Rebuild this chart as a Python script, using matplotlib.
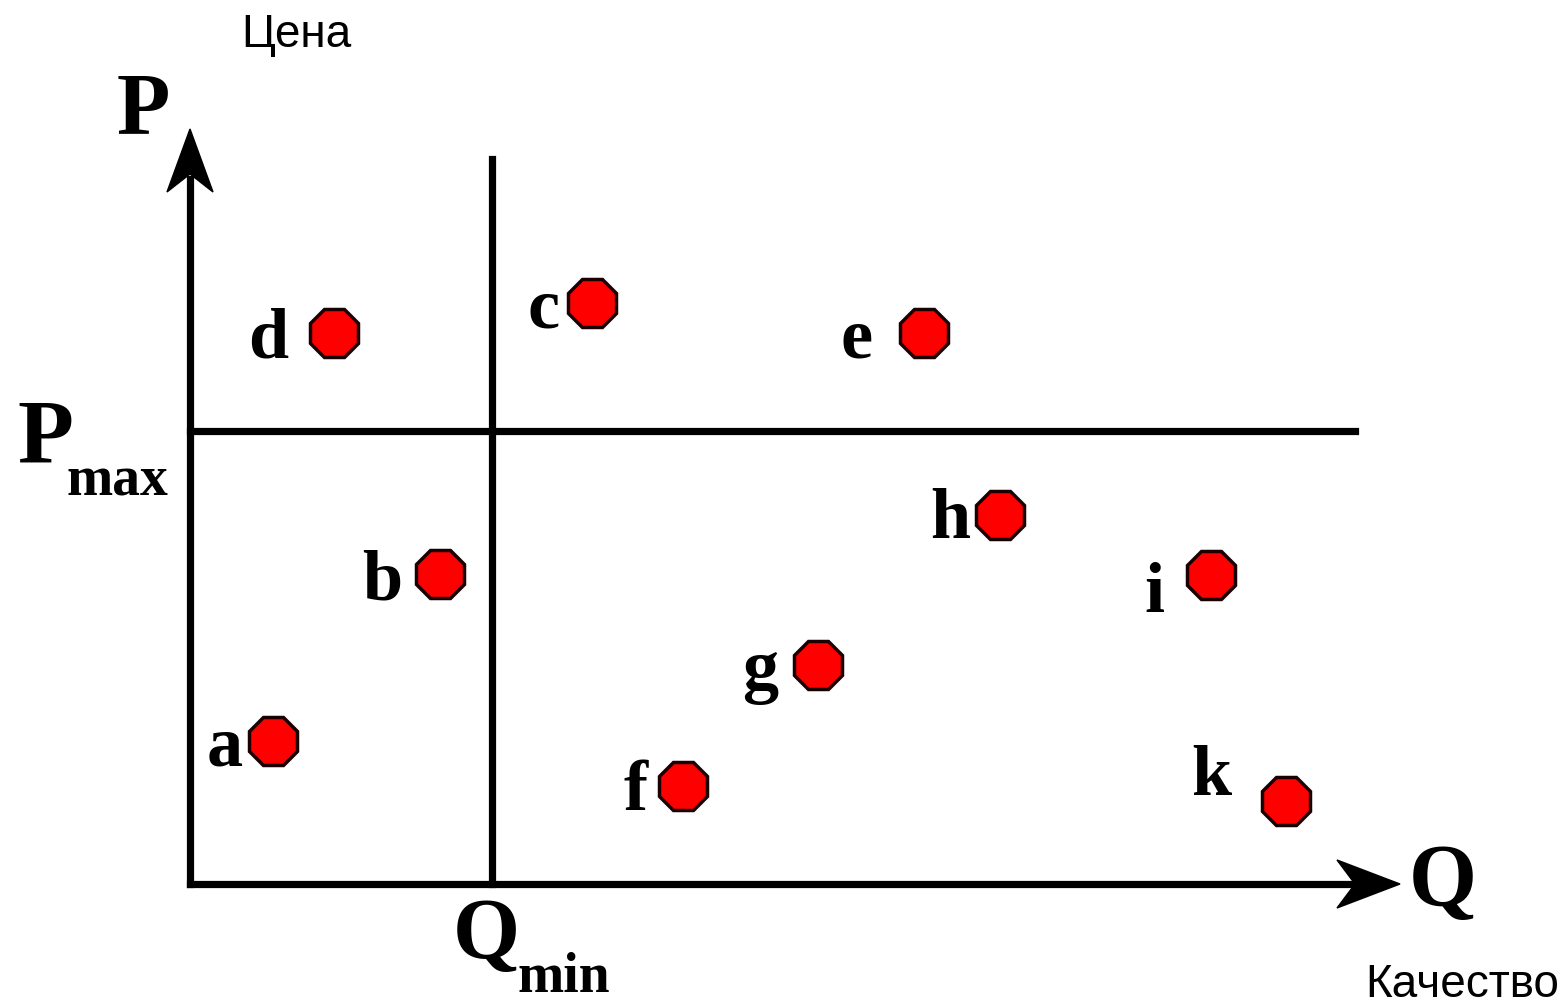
import matplotlib.pyplot as plt
from matplotlib.patches import Polygon

# points: quality (Q) and price (P), origin at the axes corner
names = ["a", "b", "c", "d", "e", "f", "g", "h", "i", "k"]
quality = [83, 250, 402, 144, 734, 493, 628, 810, 1021, 1096]
price = [143, 310, 581, 551, 551, 98, 219, 369, 309, 83]

q_min = 302
p_max = 453
q_axis_end = 1210
p_axis_end = 755

# label offsets relative to each point (text baseline)
label_dx = [-48, -58, -48, -66, -67, -47, -58, -50, -57, -75]
label_dy = [-23, -25, -23, -24, -23, -23, -24, -22, -36, 7]

serif = "Liberation Serif"
sans = "Liberation Sans"
lw = 5.2

fig = plt.figure(figsize=(15.66, 10.04), dpi=100)
ax = fig.add_axes([0, 0, 1, 1])
ax.set_xlim(-190, 1376)
ax.set_ylim(-119, 885)
ax.axis("off")

# axes with notched arrow heads
ax.plot([0, q_axis_end - 50], [0, 0], color="black", lw=lw, solid_capstyle="projecting")
ax.plot([0, 0], [0, p_axis_end - 50], color="black", lw=lw, solid_capstyle="projecting")
ax.add_patch(Polygon([(q_axis_end, 0), (q_axis_end - 63, 24), (q_axis_end - 45, 0),
                      (q_axis_end - 63, -24)], closed=True, color="black"))
ax.add_patch(Polygon([(0, p_axis_end), (23, p_axis_end - 63), (0, p_axis_end - 45),
                      (-23, p_axis_end - 63)], closed=True, color="black"))

# threshold lines
ax.plot([q_min, q_min], [0, 725], color="black", lw=lw)
ax.plot([0, 1165], [p_max, p_max], color="black", lw=lw)

ax.plot(quality, price, linestyle="none", marker="8", markersize=37,
        markerfacecolor="#ff0000", markeredgecolor="#1a0000", markeredgewidth=2.5)

for name, q, p, dx, dy in zip(names, quality, price, label_dx, label_dy):
    ax.text(q + dx, p + dy, name, fontsize=52, fontweight="bold", family=serif,
            ha="center", va="baseline")

# axis names
ax.text(-47, 752, "P", fontsize=63, fontweight="bold", family=serif, ha="center", va="baseline")
ax.text(1253, -20, "Q", fontsize=63, fontweight="bold", family=serif, ha="center", va="baseline")
ax.text(-145, 422, "P", fontsize=66, fontweight="bold", family=serif, ha="center", va="baseline")
ax.text(-73, 390, "max", fontsize=40, fontweight="bold", family=serif, ha="center", va="baseline")
ax.text(296, -73, "Q", fontsize=62, fontweight="bold", family=serif, ha="center", va="baseline")
ax.text(374, -107, "min", fontsize=40, fontweight="bold", family=serif, ha="center", va="baseline")

ax.text(106, 838, "Цена", fontsize=33, family=sans, ha="center", va="baseline")
ax.text(1272, -112, "Качество", fontsize=33, family=sans, ha="center", va="baseline")

fig.savefig("out.png", dpi=100)
